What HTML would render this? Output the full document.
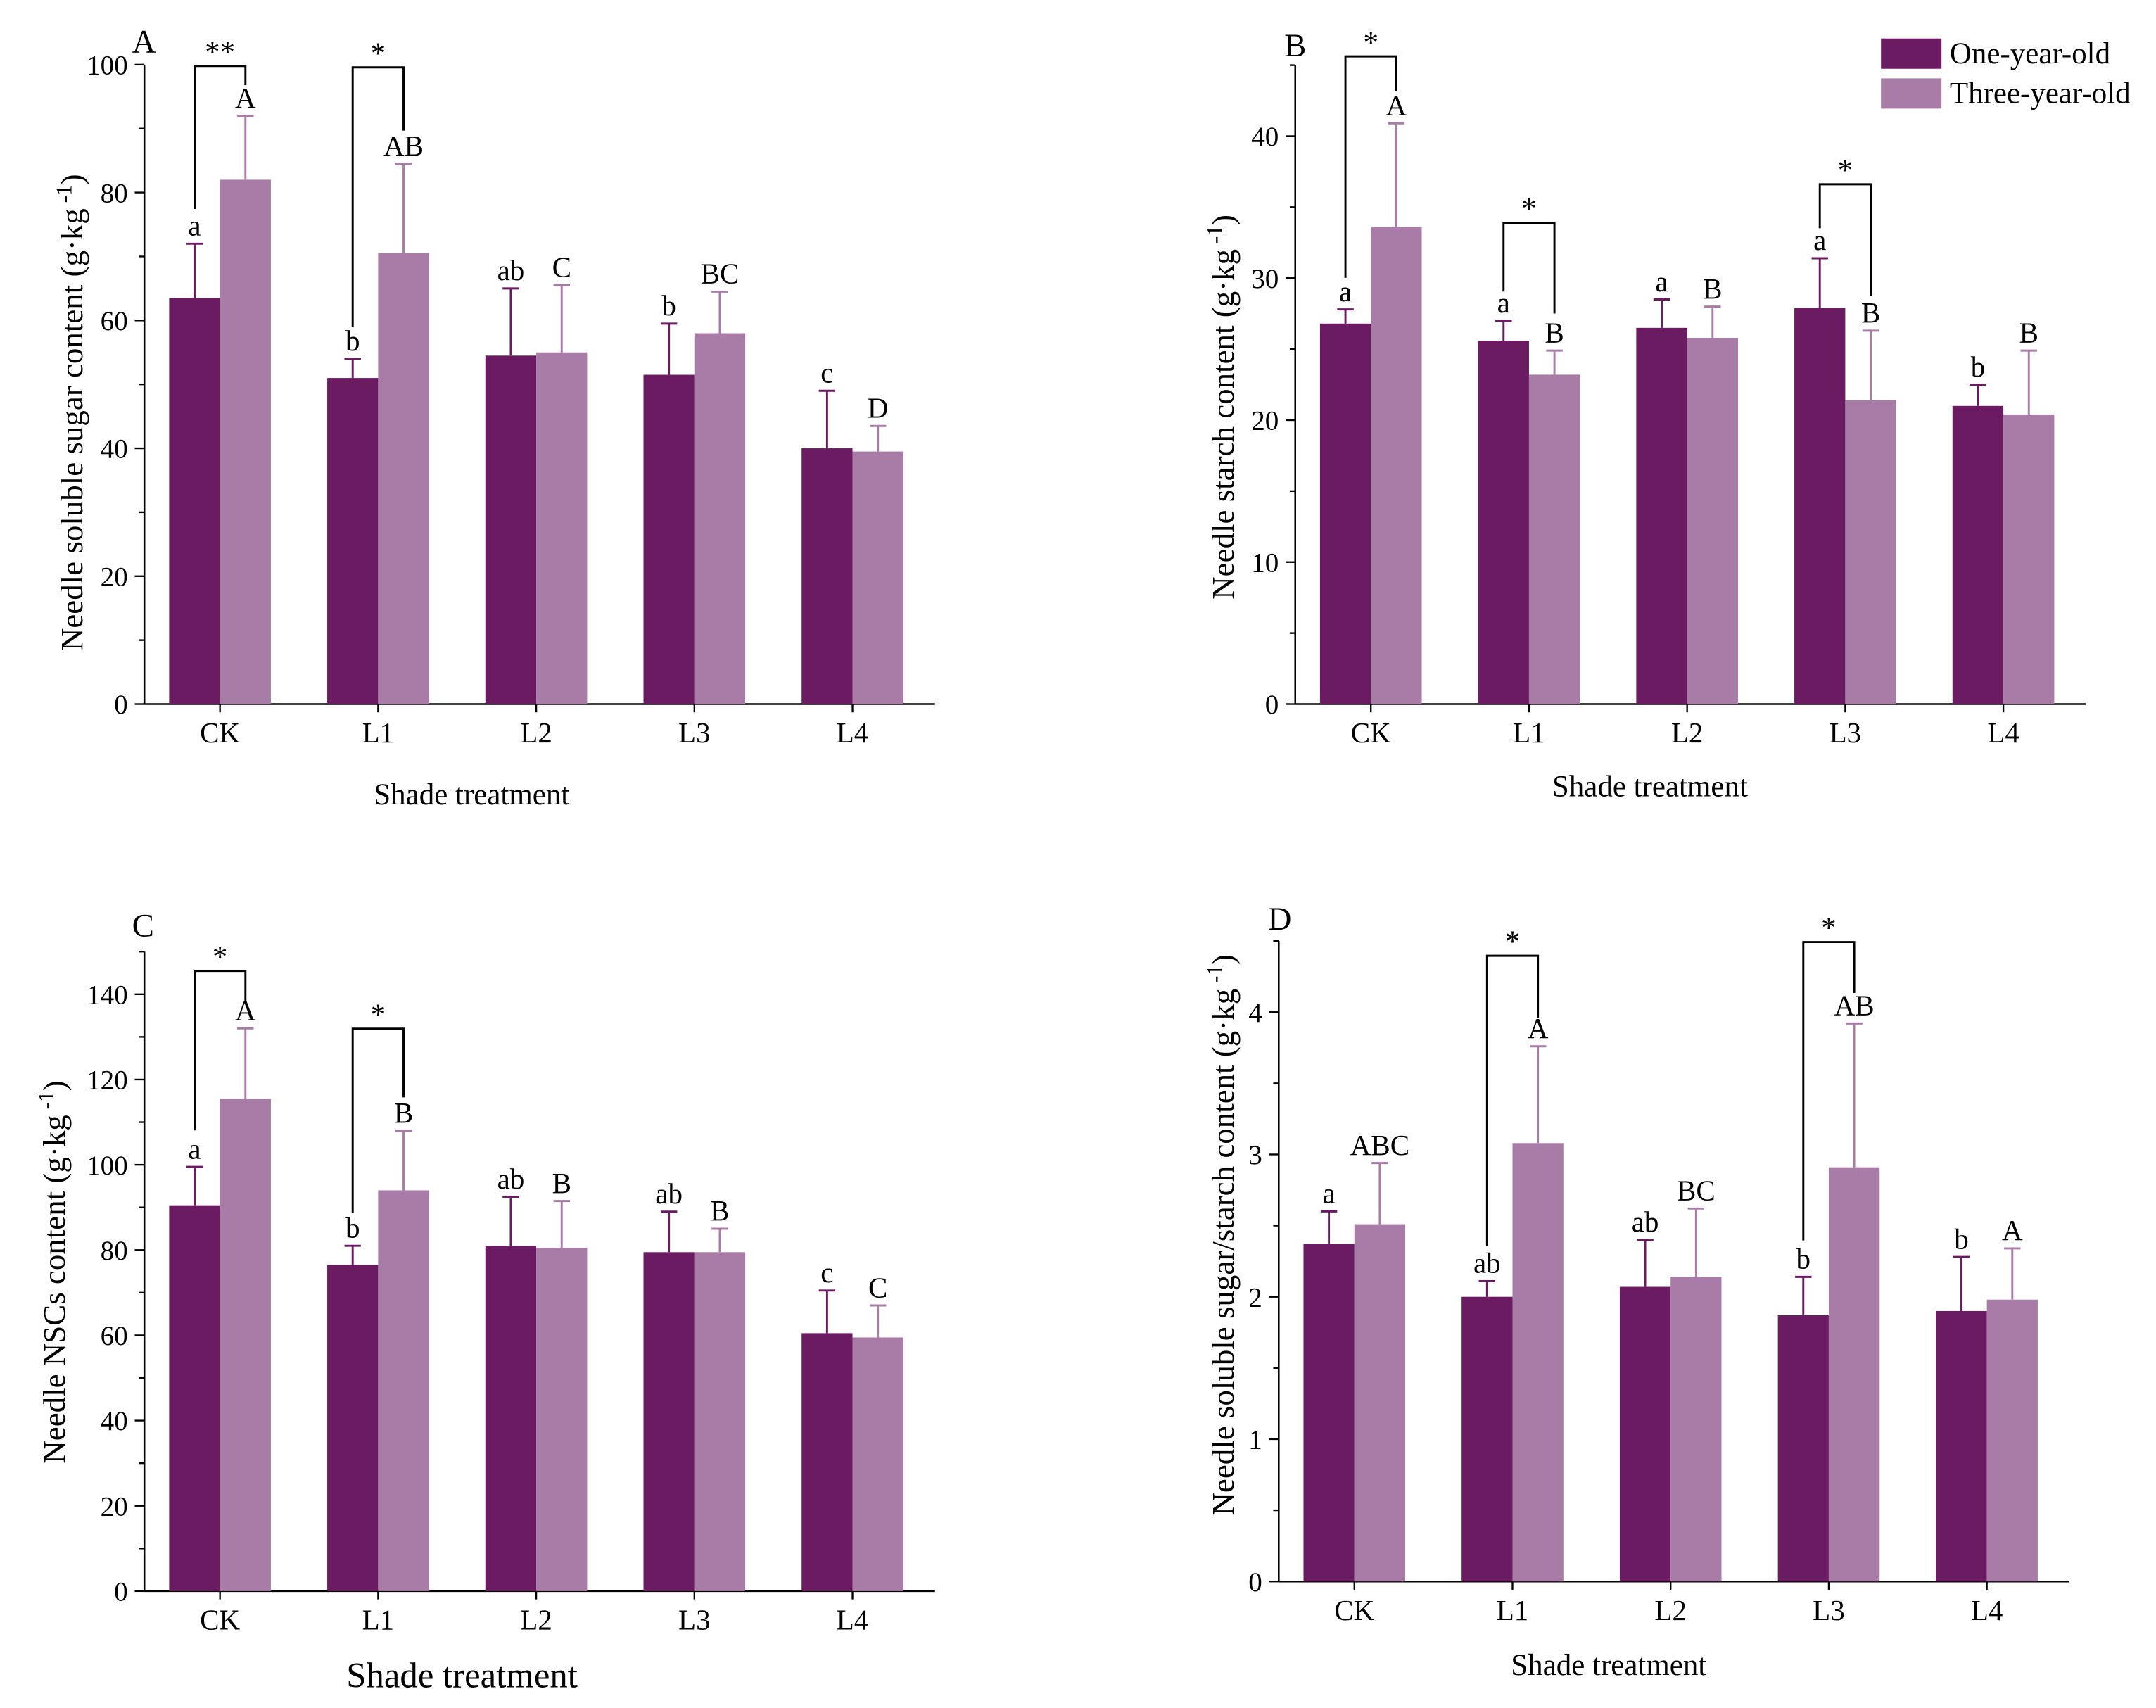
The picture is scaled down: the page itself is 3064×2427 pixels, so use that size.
<!DOCTYPE html>
<html><head><meta charset="utf-8"><style>
html,body{margin:0;padding:0;background:#fff}
svg{display:block}
text{font-family:"Liberation Serif",serif;fill:#000}
</style></head><body>
<svg id="fig" width="3064" height="2427" viewBox="0 0 1568 1242" xmlns="http://www.w3.org/2000/svg"></svg>
<script>
const categories=["CK","L1","L2","L3","L4"];
const aOne=[63.5,51,54.5,51.5,40], aOneErr=[72,54,65,59.5,49], aThree=[82,70.5,55,58,39.5], aThreeErr=[92,84.5,65.5,64.5,43.5];
const aOneLet=["a","b","ab","b","c"], aThreeLet=["A","AB","C","BC","D"];
const bOne=[26.8,25.6,26.5,27.9,21], bOneErr=[27.8,27,28.5,31.4,22.5], bThree=[33.6,23.2,25.8,21.4,20.4], bThreeErr=[40.9,24.9,28,26.3,24.9];
const bOneLet=["a","a","a","a","b"], bThreeLet=["A","B","B","B","B"];
const cOne=[90.5,76.5,81,79.5,60.5], cOneErr=[99.5,81,92.5,89,70.5], cThree=[115.5,94,80.5,79.5,59.5], cThreeErr=[132,108,91.5,85,67];
const cOneLet=["a","b","ab","ab","c"], cThreeLet=["A","B","B","B","C"];
const dOne=[2.37,2.0,2.07,1.87,1.9], dOneErr=[2.6,2.11,2.4,2.14,2.28], dThree=[2.51,3.08,2.14,2.91,1.98], dThreeErr=[2.94,3.76,2.62,3.92,2.34];
const dOneLet=["a","ab","ab","b","b"], dThreeLet=["ABC","A","BC","AB","A"];
const aTicks=[0,20,40,60,80,100], bTicks=[0,10,20,30,40], cTicks=[0,20,40,60,80,100,120,140], dTicks=[0,1,2,3,4];
const NS="http://www.w3.org/2000/svg", svg=document.getElementById("fig");
const DARK="#6a1b61", LIGHT="#a87ca6";
function mk(tag,attrs,parent,txt){const e=document.createElementNS(NS,tag);for(const k in attrs)e.setAttribute(k,attrs[k]);if(txt!==undefined)e.textContent=txt;(parent||svg).appendChild(e);return e;}
function panel(p){
  const g=mk("g",{});
  
  
  const y=v=>p.y0-(v-0)*p.k;
  const xc=i=>p.x0+55+i*115;
  const ax=mk("line",{x1:p.x0,y1:y(p.max),x2:p.x0,y2:p.y0,stroke:"#000","stroke-width":1.3},g);
  
  const xa=mk("line",{x1:p.x0,y1:p.y0,x2:p.x0+575,y2:p.y0,stroke:"#000","stroke-width":1.3},g);
  
  for(let v=0;v<=p.max+1e-9;v+=p.step/2){
    const major=Math.abs(v/p.step-Math.round(v/p.step))<1e-6;
    mk("line",{x1:p.x0-(major?7:4),y1:y(v),x2:p.x0,y2:y(v),stroke:"#000","stroke-width":1.2},g);
  }
  p.ticks.forEach(v=>{const t=mk("text",{x:p.x0-12,y:y(v)+7,"text-anchor":"end","font-size":20},g,String(v));
    });
  categories.forEach((c,i)=>{
    mk("line",{x1:xc(i),y1:p.y0,x2:xc(i),y2:p.y0+6,stroke:"#000","stroke-width":1.2},g);
    const t=mk("text",{x:xc(i),y:p.y0+28,"text-anchor":"middle","font-size":21},g,c);
    
  });
  const bw=37;
  [[p.one,p.oneE,p.oneL,DARK,-bw,"one-year"],[p.three,p.threeE,p.threeL,LIGHT,0,"three-year"]].forEach(([vals,errs,lets,col,off,nm])=>{
    vals.forEach((v,i)=>{
      const bx=xc(i)+off, cx=bx+bw/2;
      const r=mk("rect",{x:bx,y:y(v),width:bw,height:p.y0-y(v),fill:col},g);
      
      mk("line",{x1:cx,y1:y(v),x2:cx,y2:y(errs[i]),stroke:col,"stroke-width":1.5},g);
      mk("line",{x1:cx-6,y1:y(errs[i]),x2:cx+6,y2:y(errs[i]),stroke:col,"stroke-width":1.5},g);
      const t=mk("text",{x:cx,y:y(errs[i])-6,"text-anchor":"middle","font-size":21},g,lets[i]);
      
    });
  });
  p.brackets.forEach(b=>{
    const i=b[0], l=xc(i)-bw/2, r=xc(i)+bw/2;
    mk("polyline",{points:`${l},${b[2]} ${l},${b[1]} ${r},${b[1]} ${r},${b[3]}`,fill:"none",stroke:"#000","stroke-width":1.5},g);
    const t=mk("text",{x:(l+r)/2,y:b[1]-3,"text-anchor":"middle","font-size":22},g,b[4]);
    
  });
  const pl=mk("text",{x:p.lx,y:p.ly,"font-size":24},g,p.id);
  
  const xt=mk("text",{x:p.xtx,y:p.xty,"text-anchor":"middle","font-size":p.xfs},g,"Shade treatment");
  
  const yt=mk("text",{x:0,y:0,"text-anchor":"middle","font-size":23,transform:`translate(${p.ytx},${p.yty}) rotate(-90)`},g);
  
  yt.appendChild(document.createTextNode(p.ytitle+" (g·kg"));
  mk("tspan",{dy:-8,"font-size":16},yt," -1");
  mk("tspan",{dy:8},yt,")");
}
panel({id:"A",x0:105,y0:512,k:4.65,max:100,step:20,ticks:aTicks,one:aOne,oneE:aOneErr,oneL:aOneLet,three:aThree,threeE:aThreeErr,threeL:aThreeLet,
 brackets:[[0,48,152,62,"**"],[1,49,238,95,"*"]],lx:96,ly:38,xtx:343,xty:585,xfs:22,ytx:60,yty:300,ytitle:"Needle soluble sugar content"});
panel({id:"B",x0:942,y0:512,k:10.325,max:45,step:10,ticks:bTicks,one:bOne,oneE:bOneErr,oneL:bOneLet,three:bThree,threeE:bThreeErr,threeL:bThreeLet,
 brackets:[[0,41,202,66,"*"],[1,162,212,228,"*"],[3,134,166,215,"*"]],lx:934,ly:41,xtx:1200,xty:579,xfs:22,ytx:897,yty:296,ytitle:"Needle starch content"});
panel({id:"C",x0:105,y0:1157,k:3.1,max:150,step:20,ticks:cTicks,one:cOne,oneE:cOneErr,oneL:cOneLet,three:cThree,threeE:cThreeErr,threeL:cThreeLet,
 brackets:[[0,706,822,728,"*"],[1,748,882,798,"*"]],lx:96,ly:681,xtx:336,xty:1227,xfs:26,ytx:47,yty:925,ytitle:"Needle NSCs content"});
panel({id:"D",x0:930,y0:1150,k:103.5,max:4.5,step:1,ticks:dTicks,one:dOne,oneE:dOneErr,oneL:dOneLet,three:dThree,threeE:dThreeErr,threeL:dThreeLet,
 brackets:[[1,695,906,740,"*"],[3,685,902,722,"*"]],lx:922,ly:676,xtx:1170,xty:1218,xfs:22,ytx:897,yty:898,ytitle:"Needle soluble sugar/starch content"});
const lg=mk("g",{});

[[DARK,"One-year-old",28],[LIGHT,"Three-year-old",57]].forEach(([c,t,yy])=>{
  const r=mk("rect",{x:1368,y:yy,width:44,height:22,fill:c},lg);
  
  const tx=mk("text",{x:1418,y:yy+18,"font-size":22},lg,t);
  
});
</script>
</body></html>
